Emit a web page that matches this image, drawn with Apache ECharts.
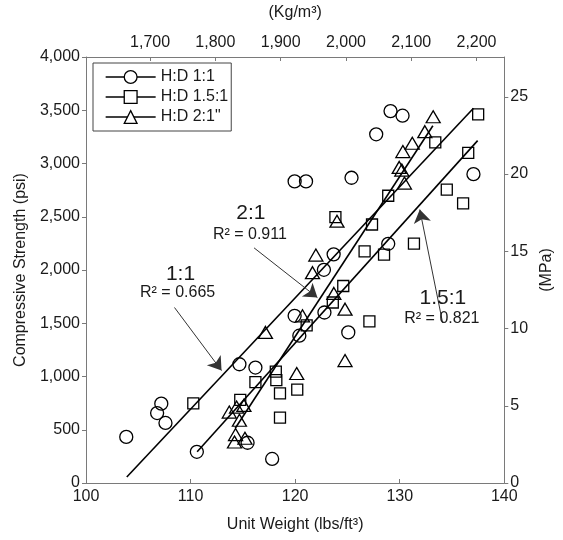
<!DOCTYPE html>
<html><head><meta charset="utf-8">
<script src="https://cdn.jsdelivr.net/npm/echarts@6/dist/echarts.min.js"></script>
<style>html,body{margin:0;padding:0;background:#fff}#c{width:563px;height:540px}</style>
</head><body><div id="c"></div>
<script>
// ---- data ----
const seriesNames = ['H:D 1:1', 'H:D 1.5:1', 'H:D 2:1"'];
const hd11 = [[103.85,433],[106.8,657],[107.2,745],[107.6,564],[110.6,293],[114.67,1115],[116.2,1084],[115.45,378],[117.8,226],[120.4,1383],[119.95,1570],[122.8,1601],[122.75,2002],[123.68,2147],[125.08,1414],[125.39,2866],[119.95,2832],[121.04,2832],[127.75,3274],[129.12,3492],[130.27,3449],[128.9,2246],[137.05,2900]];
const hd151 = [[110.26,748],[114.75,780],[116.2,947],[118.15,1045],[118.2,966],[118.55,842],[120.2,876],[118.55,614],[121.1,1480],[123.6,1695],[124.6,1850],[126.64,2175],[127.1,1517],[123.85,2497],[127.35,2427],[128.5,2145],[128.9,2697],[131.36,2248],[133.4,3199],[134.5,2754],[136.06,2625],[136.55,3100],[137.5,3461]];
const hd21 = [[113.7,666],[114.4,713],[115.1,729],[114.67,589],[114.3,455],[114.2,385],[115.2,420],[117.16,1414],[120.7,1570],[120.15,1028],[121.66,1975],[121.98,2140],[124.0,2458],[123.7,1780],[124.77,1632],[124.77,1150],[129.95,2963],[130.2,2938],[130.45,2816],[130.3,3112],[131.2,3190],[132.4,3299],[133.2,3439]];
const fit11 = [[103.9,56],[137.05,3519]];
const fit151 = [[110.63,293],[137.45,3215]];
const fit21 = [[114.27,514],[133.17,3355]];
const topTicks = [1700,1800,1900,2000,2100,2200];
const rightTicks = [0,5,10,15,20,25];
const KG_M3_PER_LB_FT3 = 16.0185;
const MPA_PER_PSI = 0.00689476;
const annoTexts = [
  {text:'1:1', at:[109.04,1963], size:21},
  {text:'R² = 0.665', at:[108.76,1785], size:16},
  {text:'2:1', at:[115.76,2533], size:21},
  {text:'R² = 0.911', at:[115.67,2336], size:16},
  {text:'1.5:1', at:[134.13,1738], size:21},
  {text:'R² = 0.821', at:[134.03,1542], size:16}
];
const arrow11 = [[108.46,1648],[112.96,1056]];
const arrow21 = [[116.07,2208],[122.13,1741]];
const arrow151 = [[134.1,1505],[131.92,2567]];

// ---- style ----
const FONT = 'Liberation Sans, Arial, sans-serif';
const TXT = '#1a1a1a';
const AX = '#7a7a7a';
const fmt = v => Math.round(v).toLocaleString('en-US');

const chart = echarts.init(document.getElementById('c'), null, {renderer:'canvas'});

function axisBase(extra) {
  return Object.assign({
    type:'value',
    splitLine:{show:false},
    axisLine:{show:true, onZero:false, lineStyle:{color:AX, width:1}},
    axisLabel:{fontSize:16, color:TXT, fontFamily:FONT, margin:6},
    nameTextStyle:{fontSize:16, color:TXT, fontFamily:FONT},
    nameLocation:'middle'
  }, extra);
}

function markerSeries(name, data, symbol, size) {
  return {
    name, type:'line', data, symbol, symbolSize:size,
    xAxisIndex:0, yAxisIndex:0,
    lineStyle:{opacity:0, width:0},
    itemStyle:{color:'rgba(0,0,0,0)', borderColor:'#000', borderWidth:1.3},
    emphasis:{disabled:true}, silent:true, z:4
  };
}
function arrowMark(pts) {
  return {
    silent:true, symbol:['none','arrow'], symbolSize:13,
    label:{show:false},
    lineStyle:{color:'#333', width:1, type:'solid'},
    emphasis:{disabled:true},
    data:[[{coord:pts[0]},{coord:pts[1]}]]
  };
}
function fitSeries(data, arrow) {
  return {
    type:'line', data, symbol:'none', xAxisIndex:0, yAxisIndex:0,
    lineStyle:{color:'#000', width:1.6}, emphasis:{disabled:true}, silent:true, z:3,
    markLine: arrowMark(arrow)
  };
}

const option = {
  animation:false,
  backgroundColor:'#fff',
  textStyle:{fontFamily:FONT},
  grid:{left:86, right:49, top:55, bottom:57, containLabel:false},
  legend:{
    orient:'vertical', left:93, top:63,
    itemWidth:50, itemHeight:16, itemGap:4,
    padding:[6,3,6,12],
    borderColor:'#444', borderWidth:1,
    textStyle:{fontSize:16, color:TXT, fontFamily:FONT},
    itemStyle:{color:'#fff', borderColor:'#000', borderWidth:1.3},
    lineStyle:{color:'#000', width:1.3, opacity:1, type:'solid'},
    data:seriesNames
  },
  xAxis:[
    axisBase({position:'bottom', min:100, max:140, interval:10,
      axisTick:{show:true, inside:true, length:4, lineStyle:{color:AX}},
      name:'Unit Weight (lbs/ft³)', nameGap:34}),
    axisBase({position:'top', min:100*KG_M3_PER_LB_FT3, max:140*KG_M3_PER_LB_FT3,
      axisTick:{show:true, inside:true, length:4, lineStyle:{color:AX}, customValues:topTicks},
      axisLabel:{fontSize:16, color:TXT, fontFamily:FONT, margin:6, customValues:topTicks, formatter:fmt},
      name:'(Kg/m³)', nameGap:36})
  ],
  yAxis:[
    axisBase({position:'left', min:0, max:4000, interval:500,
      axisTick:{show:true, inside:false, length:4, lineStyle:{color:AX}},
      axisLabel:{fontSize:16, color:TXT, fontFamily:FONT, margin:6, formatter:fmt},
      name:'Compressive Strength (psi)', nameGap:56, nameRotate:90}),
    axisBase({position:'right', min:0, max:4000*MPA_PER_PSI,
      axisTick:{show:true, inside:false, length:4, lineStyle:{color:AX}, customValues:rightTicks},
      axisLabel:{fontSize:16, color:TXT, fontFamily:FONT, margin:6, customValues:rightTicks, formatter:fmt},
      name:'(MPa)', nameGap:32, nameRotate:90})
  ],
  series:[
    markerSeries(seriesNames[0], hd11, 'circle', 13),
    markerSeries(seriesNames[1], hd151, 'rect', 11),
    markerSeries(seriesNames[2], hd21, 'triangle', [14,12]),
    fitSeries(fit11, arrow11),
    fitSeries(fit151, arrow151),
    fitSeries(fit21, arrow21)
  ]
};
chart.setOption(option);

const graphics = annoTexts.map(a => {
  const p = chart.convertToPixel({seriesIndex:3}, a.at);
  return {type:'text', x:p[0], y:p[1], silent:true, z:10,
    style:{text:a.text, fontSize:a.size, fontFamily:FONT, fill:TXT, align:'center', verticalAlign:'middle'}};
});
chart.setOption({graphic:graphics});
</script>
</body></html>
